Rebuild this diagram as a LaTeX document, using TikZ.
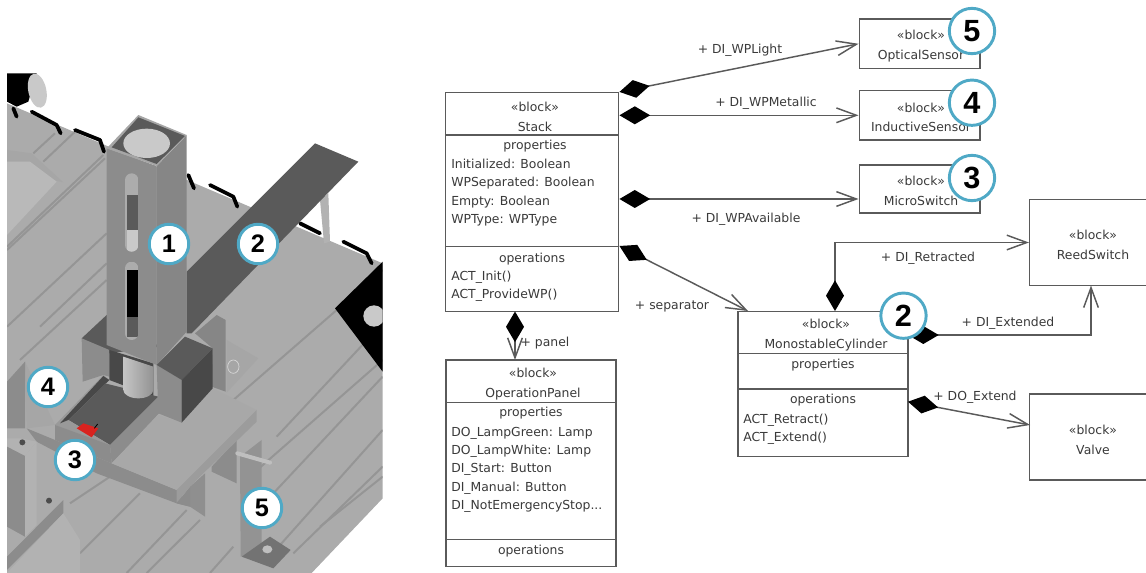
\documentclass[tikz,border=0pt]{standalone}
\usepackage{fontspec}
\setmainfont{DejaVu Sans}
\newfontfamily\numfont{Liberation Sans}
\usetikzlibrary{arrows.meta}
\definecolor{linegray}{HTML}{5A5A5A}
\definecolor{textgray}{HTML}{3A3A3A}
\definecolor{ringteal}{HTML}{4FA9C6}
\definecolor{plategray}{HTML}{ABABAB}
\definecolor{railgray}{HTML}{959595}
\definecolor{facegray}{HTML}{8C8C8C}
\definecolor{darkgray}{HTML}{5A5A5A}
\definecolor{deepgray}{HTML}{484848}
\definecolor{lightgray}{HTML}{C9C9C9}
\definecolor{partred}{HTML}{D9231F}
\tikzset{
  block/.style={draw=linegray, line width=1.1pt, fill=white, inner sep=0pt},
  blocktext/.style={text=textgray, align=center, inner sep=0pt, font=\fontsize{9.3}{14.6}\selectfont},
  listtext/.style={text=textgray, align=left, inner sep=0pt, anchor=north west, font=\fontsize{9.3}{13.65}\selectfont},
  rolelabel/.style={text=textgray, inner sep=0pt, font=\fontsize{9.3}{10}\selectfont},
  assoc/.style={draw=linegray, line width=1.1pt, {Diamond[black,length=23pt,width=13.5pt]}-{Straight Barb[linegray,length=15pt,width=11pt]}},
  numbig/.style={circle, draw=ringteal, fill=white, line width=2.2pt, minimum size=34pt, inner sep=0pt, font=\numfont\bfseries\fontsize{23}{23}\selectfont},
  numsmall/.style={circle, draw=ringteal, fill=white, line width=2.2pt, minimum size=29.6pt, inner sep=0pt, font=\numfont\bfseries\fontsize{19}{19}\selectfont},
  rail/.style={draw=railgray, line width=1.5pt},
  hook/.style={black, line width=2.8pt, line cap=round, line join=round}
}
\begin{document}
\begin{tikzpicture}[x=.75pt, y=-.75pt]
\useasboundingbox (0,0) rectangle (1146,573);
\begin{scope}[shift={(0,60)}, x=.25pt, y=-.25pt]
\clip (21,40) rectangle (1148,1539);
\fill[plategray] (21,130) -- (1148,610) -- (1148,1315) -- (935,1539) -- (21,1539) -- cycle;
\fill[black] (21,40) -- (110,40) -- (85,125) -- (50,140) -- (21,125) -- cycle;
\fill[lightgray, rotate around={12:(112,92)}] (112,92) ellipse (27 and 52);
\fill[gray!70] (21,270) -- (95,280) -- (190,367) -- (160,360) -- (90,305) -- (21,305) -- cycle;
\fill[gray!55] (21,305) -- (90,305) -- (170,365) -- (21,525) -- cycle;
\foreach \xa/\ya/\xb/\yb in {100/280/165/220, 130/305/225/215, 21/560/310/285, 21/570/315/295, 21/800/320/520, 60/900/320/660, 120/800/320/610,
  700/1020/1148/630, 830/1130/1148/790, 760/1240/1148/900, 820/1300/1148/950, 800/1500/1148/1110, 880/1480/1148/1220, 960/1400/1148/1250,
  210/1330/330/1250, 240/1480/420/1300, 380/1539/560/1350, 440/1539/600/1380, 630/1539/700/1460}
  \draw[rail] (\xa,\ya) -- (\xb,\yb);
\draw[hook] (40,145) -- (50,170);
\draw[hook] (95,155) -- (170,195) -- (182,220);
\draw[hook] (225,210) -- (300,240) -- (312,275);
\draw[hook] (565,345) -- (582,385);
\draw[hook] (630,375) -- (700,410) -- (712,440);
\draw[hook] (900,490) -- (960,520);
\draw[hook] (1030,545) -- (1100,580) -- (1115,610);
\fill[black] (1148,605) -- (1005,745) -- (1148,935) -- cycle;
\fill[lightgray] (1122,768) circle (32);
% bar behind the column
\fill[gray!60] (960,420) -- (985,400) -- (990,545) -- (972,550) -- cycle;
\fill[darkgray] (560,635) -- (945,250) -- (1075,305) -- (575,820) -- (560,820) -- cycle;
\fill[gray!70] (680,840) -- (775,895) -- (680,998) -- cycle;
\fill[gray!95] (585,820) -- (650,765) -- (677,780) -- (677,995) -- (635,980) -- (638,865) -- cycle;
\draw[gray!30, line width=.5pt] (700,920) ellipse (17 and 20);
% holder under the column
\fill[darkgray] (245,835) -- (320,765) -- (480,860) -- (328,880) -- cycle;
\fill[facegray] (245,835) -- (328,870) -- (328,950) -- (310,945) -- (248,965) -- cycle;
\fill[deepgray] (328,870) -- (460,910) -- (460,1010) -- (328,960) -- cycle;
% tray
\fill[darkgray] (205,1080) -- (315,970) -- (475,1010) -- (330,1155) -- cycle;
\fill[gray!80] (165,1095) -- (310,945) -- (328,960) -- (205,1080) -- (330,1155) -- (200,1110) -- cycle;
\fill[deepgray] (180,1090) -- (310,948) -- (328,960) -- (205,1080) -- cycle;
\shade[left color=gray!45, right color=gray!85] (370,890) -- (460,920) -- (460,990) arc (0:180:45 and 25) -- cycle;
\fill[facegray] (330,1155) -- (475,1010) -- (477,1060) -- (335,1210) -- cycle;
\fill[facegray] (165,1095) -- (330,1155) -- (335,1210) -- (165,1140) -- cycle;
\fill[facegray] (80,1105) -- (165,1140) -- (335,1210) -- (530,1290) -- (570,1340) -- (530,1330) -- (290,1240) -- (110,1145) -- cycle;
\fill[partred] (230,1105) -- (250,1090) -- (295,1105) -- (275,1132) -- cycle;
\draw[black, line width=.6pt] (283,1105) -- (293,1092);
% top plate
\fill[gray!88] (570,1280) -- (615,1240) -- (615,1370) -- (570,1340) -- cycle;
\fill[facegray] (530,1330) -- (570,1280) -- (570,1340) -- cycle;
\fill[facegray] (635,1220) -- (710,1140) -- (710,1270) -- (635,1235) -- cycle;
\fill[gray!68] (335,1210) -- (475,1065) -- (545,1088) -- (638,985) -- (770,1050) -- (530,1290) -- cycle;
\fill[gray!78] (530,1290) -- (770,1050) -- (770,1085) -- (615,1235) -- (570,1280) -- (530,1328) -- cycle;
% column
\fill[facegray] (320,265) -- (470,318) -- (470,915) -- (320,855) -- cycle;
\fill[gray!95] (470,318) -- (560,225) -- (560,815) -- (470,915) -- cycle;
\fill[gray!70] (320,265) -- (415,165) -- (560,225) -- (470,318) -- cycle;
\fill[darkgray] (335,262) -- (415,172) -- (555,228) -- (470,312) -- cycle;
\fill[lightgray] (440,250) ellipse (70 and 44);
\begin{scope}
\clip[rounded corners=5pt] (375,340) rectangle (415,575);
\fill[gray!65] (375,340) rectangle (415,575);
\fill[darkgray] (380,405) rectangle (415,510);
\fill[lightgray] (380,510) rectangle (415,575);
\end{scope}
\begin{scope}
\clip[rounded corners=5pt] (375,605) rectangle (415,840);
\fill[gray!65] (375,605) rectangle (415,840);
\fill[black] (380,630) rectangle (415,770);
\fill[darkgray] (380,770) rectangle (415,830);
\end{scope}
% block
\fill[facegray] (470,915) -- (545,960) -- (545,1088) -- (475,1060) -- cycle;
\fill[darkgray] (470,915) -- (555,830) -- (638,865) -- (545,960) -- cycle;
\fill[deepgray] (545,960) -- (638,865) -- (638,985) -- (545,1088) -- cycle;
% sensor 5
\fill[gray!85] (720,1190) -- (785,1140) -- (785,1465) -- (722,1490) -- cycle;
\fill[gray!90!black] (725,1490) -- (810,1430) -- (872,1470) -- (820,1525) -- cycle;
\fill[gray!50] (802,1468) ellipse (15 and 12);
\draw[gray!50, line width=3pt, line cap=round] (712,1180) -- (810,1208);
% posts
\fill[gray!70] (75,905) -- (165,1095) -- (80,1105) -- cycle;
\fill[facegray] (21,965) -- (75,905) -- (75,1105) -- (21,1105) -- cycle;
\fill[gray!60] (21,1135) -- (60,1135) -- (110,1145) -- (75,1188) -- (21,1160) -- cycle;
\fill[facegray] (21,1160) -- (75,1188) -- (75,1430) -- (21,1400) -- cycle;
\fill[gray!60] (75,1188) -- (110,1145) -- (110,1395) -- (75,1430) -- cycle;
\fill[gray!60!black] (67,1147) circle (9);
\fill[facegray] (21,1490) -- (190,1320) -- (190,1360) -- (21,1530) -- cycle;
\fill[gray!60] (21,1539) -- (190,1360) -- (240,1440) -- (240,1539) -- cycle;
\fill[gray!60!black] (147,1322) circle (9);
\end{scope}
\node[numsmall] (photo1) at (169,244) {1};
\node[numsmall] (photo2) at (258,244) {2};
\node[numsmall] (photo3) at (75,460) {3};
\node[numsmall] (photo4) at (48,387) {4};
\node[numsmall] (photo5) at (262,508) {5};
\node[block, minimum width=129.8pt, minimum height=164pt] (stack) at (532.2,202) {};
\node[blocktext] (stacktitle) at (535,117) {«block»\\Stack};
\node[blocktext] (stackprops) at (535,146.5) {properties};
\node[listtext] (stacklist) at (451,159) {Initialized: Boolean\\WPSeparated: Boolean\\Empty: Boolean\\WPType: WPType};
\node[blocktext] (stackops) at (532,259) {operations};
\node[listtext] (stackacts) at (451,271) {ACT\_Init()\\ACT\_ProvideWP()};
\draw[block] (stack.west |- 0,135) -- (stack.east |- 0,135);
\draw[block] (stack.west |- 0,246.5) -- (stack.east |- 0,246.5);
\node[block, minimum width=90.5pt, minimum height=37pt] (optical) at (919.6,43.8) {};
\node[blocktext] (opticaltitle) at (921,46) {«block»\\OpticalSensor};
\node[block, minimum width=90.5pt, minimum height=37pt] (inductive) at (919.6,115.3) {};
\node[blocktext] (inductivetitle) at (921,117.5) {«block»\\InductiveSensor};
\node[block, minimum width=90.5pt, minimum height=36pt] (micro) at (919.6,188.8) {};
\node[blocktext] (microtitle) at (921,191) {«block»\\MicroSwitch};
\node[block, minimum width=95pt, minimum height=64.7pt] (reed) at (1093,242.5) {};
\node[blocktext] (reedtitle) at (1093,245) {«block»\\ReedSwitch};
\node[block, minimum width=127.5pt, minimum height=109pt] (cylinder) at (823,384) {};
\node[blocktext] (cylindertitle) at (826,335) {«block»\\MonostableCylinder};
\node[blocktext] (cylinderprops) at (823,365) {properties};
\node[blocktext] (cylinderops) at (823,400.5) {operations};
\node[listtext] (cylinderacts) at (743,414) {ACT\_Retract()\\ACT\_Extend()};
\draw[block] (cylinder.west |- 0,353.5) -- (cylinder.east |- 0,353.5);
\draw[block] (cylinder.west |- 0,389) -- (cylinder.east |- 0,389);
\node[block, minimum width=95pt, minimum height=64.5pt] (valve) at (1093,437) {};
\node[blocktext] (valvetitle) at (1093,440) {«block»\\Valve};
\node[block, minimum width=127.7pt, minimum height=155pt] (panel) at (531,463.4) {};
\node[blocktext] (paneltitle) at (533,384) {«block»\\OperationPanel};
\node[blocktext] (panelprops) at (531,413.5) {properties};
\node[listtext] (panellist) at (451,427) {DO\_LampGreen: Lamp\\DO\_LampWhite: Lamp\\DI\_Start: Button\\DI\_Manual: Button\\DI\_NotEmergencyStop...};
\node[blocktext] (panelops) at (531,551) {operations};
\draw[block] (panel.west |- 0,402.5) -- (panel.east |- 0,402.5);
\draw[block] (panel.west |- 0,539.5) -- (panel.east |- 0,539.5);
\coordinate (stackmetal) at (stack.east |- inductive.west);
\coordinate (microin) at (micro.west |- 0,199);
\coordinate (stackavail) at (stack.east |- microin);
\coordinate (stacksep) at (stack.east |- 0,246);
\coordinate (cylinderin) at (748,311);
\coordinate (stackpanel) at (515,311.5);
\coordinate (panelin) at (515,360);
\coordinate (cylinderret) at (835,311);
\coordinate (cylinderext) at (908,335);
\coordinate (reedin) at (1091,285.5);
\coordinate (cylinderout) at (908,401.7);
\coordinate (valvein) at (1030,425);
\draw[assoc] (stack.north east) -- (optical.west);
\draw[assoc] (stackmetal) -- (inductive.west);
\draw[assoc] (stackavail) -- (microin);
\draw[assoc] (stacksep) -- (cylinderin);
\draw[assoc] (stackpanel) -- (panelin);
\draw[assoc] (cylinderret) |- (reed.west);
\draw[assoc] (cylinderext) -| (reedin);
\draw[assoc] (cylinderout) -- (valvein);
\node[rolelabel] (lightlabel) at (740,50) {+ DI\_WPLight};
\node[rolelabel] (metallabel) at (766,103) {+ DI\_WPMetallic};
\node[rolelabel] (availlabel) at (746,219) {+ DI\_WPAvailable};
\node[rolelabel] (seplabel) at (672,306) {+ separator};
\node[rolelabel] (panellabel) at (545,343) {+ panel};
\node[rolelabel] (retlabel) at (928,258) {+ DI\_Retracted};
\node[rolelabel] (extlabel) at (1008,323) {+ DI\_Extended};
\node[rolelabel] (outlabel) at (975,397) {+ DO\_Extend};
\node[numbig] (num5) at (972,31) {5};
\node[numbig] (num4) at (972,102.7) {4};
\node[numbig] (num3) at (972,178) {3};
\node[numbig] (num2) at (903.5,315.7) {2};
\end{tikzpicture}
\end{document}
